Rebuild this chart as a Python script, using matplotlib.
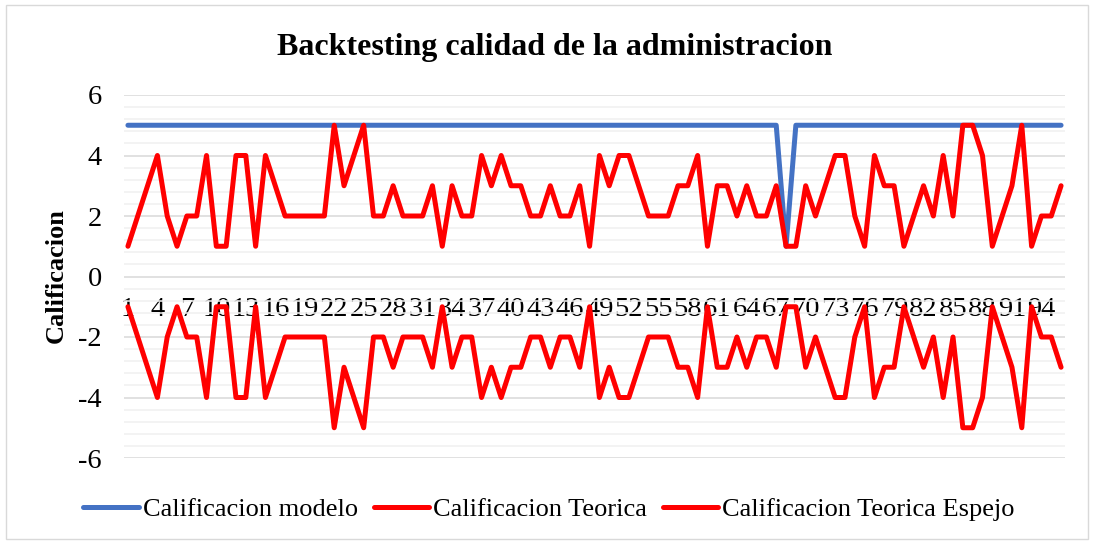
import matplotlib.pyplot as plt
from matplotlib.ticker import MultipleLocator
from matplotlib.patches import Rectangle

plt.rcParams['font.family'] = ['Liberation Serif', 'DejaVu Serif']
plt.rcParams['axes.unicode_minus'] = False

# periodos 1..96
periodos = list(range(1, 97))

modelo = [5, 5, 5, 5, 5, 5, 5, 5, 5, 5,
          5, 5, 5, 5, 5, 5, 5, 5, 5, 5,
          5, 5, 5, 5, 5, 5, 5, 5, 5, 5,
          5, 5, 5, 5, 5, 5, 5, 5, 5, 5,
          5, 5, 5, 5, 5, 5, 5, 5, 5, 5,
          5, 5, 5, 5, 5, 5, 5, 5, 5, 5,
          5, 5, 5, 5, 5, 5, 5, 1, 5, 5,
          5, 5, 5, 5, 5, 5, 5, 5, 5, 5,
          5, 5, 5, 5, 5, 5, 5, 5, 5, 5,
          5, 5, 5, 5, 5, 5]

teorica = [1, 2, 3, 4, 2, 1, 2, 2, 4, 1,
           1, 4, 4, 1, 4, 3, 2, 2, 2, 2,
           2, 5, 3, 4, 5, 2, 2, 3, 2, 2,
           2, 3, 1, 3, 2, 2, 4, 3, 4, 3,
           3, 2, 2, 3, 2, 2, 3, 1, 4, 3,
           4, 4, 3, 2, 2, 2, 3, 3, 4, 1,
           3, 3, 2, 3, 2, 2, 3, 1, 1, 3,
           2, 3, 4, 4, 2, 1, 4, 3, 3, 1,
           2, 3, 2, 4, 2, 5, 5, 4, 1, 2,
           3, 5, 1, 2, 2, 3]

espejo = [-1, -2, -3, -4, -2, -1, -2, -2, -4, -1,
          -1, -4, -4, -1, -4, -3, -2, -2, -2, -2,
          -2, -5, -3, -4, -5, -2, -2, -3, -2, -2,
          -2, -3, -1, -3, -2, -2, -4, -3, -4, -3,
          -3, -2, -2, -3, -2, -2, -3, -1, -4, -3,
          -4, -4, -3, -2, -2, -2, -3, -3, -4, -1,
          -3, -3, -2, -3, -2, -2, -3, -1, -1, -3,
          -2, -3, -4, -4, -2, -1, -4, -3, -3, -1,
          -2, -3, -2, -4, -2, -5, -5, -4, -1, -2,
          -3, -5, -1, -2, -2, -3]

etiquetas_x = list(range(1, 97, 3))
nombres = ['Calificacion modelo', 'Calificacion Teorica', 'Calificacion Teorica Espejo']

fig = plt.figure(figsize=(10.95, 5.44), dpi=100)
ax = fig.add_axes([124/1095, 1-458/544, (1065-124)/1095, (458-95)/544])

l1, = ax.plot(periodos, modelo, color='#4472C4', lw=3.6, solid_capstyle='round', zorder=3)
l2, = ax.plot(periodos, teorica, color='#FF0000', lw=3.6, solid_capstyle='round', zorder=4)
l3, = ax.plot(periodos, espejo, color='#FF0000', lw=3.6, solid_capstyle='round', zorder=4)

ax.set_xlim(0.6, 96.4)
ax.set_ylim(-6, 6)
ax.yaxis.set_major_locator(MultipleLocator(2))
ax.yaxis.set_minor_locator(MultipleLocator(0.4))
ax.grid(which='major', axis='y', color='#d9d9d9', lw=1.1)
ax.grid(which='minor', axis='y', color='#f0f0f0', lw=1.1)
ax.set_axisbelow(True)

ax.set_xticks(etiquetas_x)
ax.set_xticklabels([str(v) for v in etiquetas_x])
ax.spines['bottom'].set_position(('data', 0))
for s in ax.spines.values():
    s.set_color('none')
ax.tick_params(axis='both', which='both', length=0, labelsize=20.5)
ax.tick_params(axis='x', pad=15)
ax.tick_params(axis='y', pad=16)

fig.text(555/1095, 1-55/544, 'Backtesting calidad de la administracion',
         ha='center', va='baseline', fontsize=23, fontweight='bold')
fig.text(56/1095, 1-276/544, 'Calificacion', rotation=90,
         ha='center', va='center', fontsize=19, fontweight='bold')

fig.legend([l1, l2, l3], nombres, loc='center', bbox_to_anchor=(549/1095, 1-509/544),
           ncol=3, frameon=False, fontsize=19, handlelength=2.1,
           handletextpad=0.15, columnspacing=0.6)

fig.patches.append(Rectangle((6/1095, 5/544), 1082/1095, 534/544, transform=fig.transFigure,
                             fill=False, edgecolor='#d9d9d9', lw=1))

fig.savefig('out.png', dpi=100)
